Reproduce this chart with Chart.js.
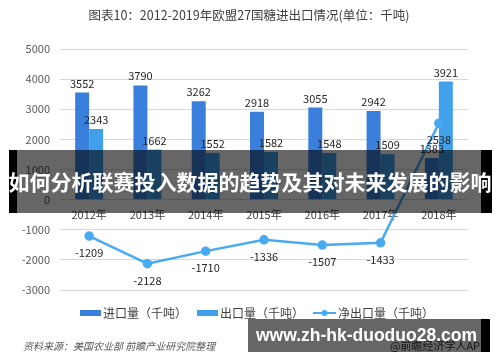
<!DOCTYPE html>
<html>
<head>
<meta charset="utf-8">
<script src="https://cdn.jsdelivr.net/npm/chart.js@4/dist/chart.umd.min.js"></script>
<style>
  body { margin: 0; background: #fff; }
  #wrap { position: relative; width: 500px; height: 362px; }
  .band {
    position: absolute; left: 9px; top: 150px; width: 464px; height: 63px;
    background: rgba(0, 0, 0, 0.6); border-left: 8px solid #000; border-right: 11px solid #000;
  }
  .band-text {
    position: absolute; left: 0; top: 150px; width: 500px; height: 63px;
    color: #fff; font: bold 21px "Noto Sans CJK SC", sans-serif; line-height: 63px;
    text-align: center; white-space: nowrap;
  }
  .site {
    position: absolute; left: 248px; top: 319px; width: 233px; height: 33px;
    background: rgba(0, 0, 0, 0.6); border-right: 9px solid #000;
  }
  .site-text {
    position: absolute; left: 248px; top: 319px; width: 237px; height: 33px;
    color: #fff; font: bold 17.5px "Liberation Sans", sans-serif; line-height: 33px;
    text-align: center; white-space: nowrap;
  }
</style>
</head>
<body>
<div id="wrap">
  <canvas id="chart" width="500" height="362"></canvas>
  <div class="band"></div>
  <div class="band-text">如何分析联赛投入数据的趋势及其对未来发展的影响</div>
  <div class="site"></div>
  <div class="site-text">www.zh-hk-duoduo28.com</div>
</div>
<script>
  const years = ['2012年', '2013年', '2014年', '2015年', '2016年', '2017年', '2018年'];
  const imports = [3552, 3790, 3262, 2918, 3055, 2942, 1383];
  const exports = [2343, 1662, 1552, 1582, 1548, 1509, 3921];
  const netExports = [-1209, -2128, -1710, -1336, -1507, -1433, 2538];

  const font = '"Noto Sans CJK SC", sans-serif';
  const importColor = '#3b7fdc';
  const exportColor = '#40a0ea';
  const lineColor = '#48aaf0';

  // value labels, title, legend and source note
  const extras = {
    id: 'extras',
    afterDatasetsDraw(chart) {
      const ctx = chart.ctx;
      ctx.save();
      ctx.fillStyle = '#262626';
      ctx.font = '11px ' + font;
      ctx.textAlign = 'center';
      [0, 1].forEach(i => {
        chart.getDatasetMeta(i).data.forEach((bar, j) => {
          ctx.fillText(String(chart.data.datasets[i].data[j]), bar.x, bar.y - 5);
        });
      });
      chart.getDatasetMeta(2).data.forEach((pt, j) => {
        ctx.fillText(String(netExports[j]), pt.x, pt.y + 21);
      });
      ctx.restore();
    },
    afterDraw(chart) {
      const ctx = chart.ctx;
      ctx.save();
      ctx.fillStyle = '#404040';
      ctx.font = '12.5px ' + font;
      ctx.textAlign = 'center';
      ctx.textBaseline = 'middle';
      ctx.fillText('图表10：2012-2019年欧盟27国糖进出口情况(单位：千吨)', 249, 15);

      // legend
      ctx.textAlign = 'left';
      ctx.font = '12px ' + font;
      const ly = 313;
      ctx.fillStyle = importColor;
      ctx.fillRect(80, ly - 3, 21, 6);
      ctx.fillStyle = '#404040';
      ctx.fillText('进口量（千吨）', 103, ly);
      ctx.fillStyle = exportColor;
      ctx.fillRect(197, ly - 3, 21, 6);
      ctx.fillStyle = '#404040';
      ctx.fillText('出口量（千吨）', 220, ly);
      ctx.strokeStyle = lineColor;
      ctx.lineWidth = 2;
      ctx.beginPath();
      ctx.moveTo(313, ly);
      ctx.lineTo(336, ly);
      ctx.stroke();
      ctx.fillStyle = lineColor;
      ctx.beginPath();
      ctx.arc(324.5, ly, 3, 0, Math.PI * 2);
      ctx.fill();
      ctx.fillStyle = '#404040';
      ctx.fillText('净出口量（千吨）', 338, ly);

      // source
      ctx.font = 'italic 10px ' + font;
      ctx.fillStyle = '#595959';
      ctx.fillText('资料来源：美国农业部 前瞻产业研究院整理', 23, 346);
      ctx.font = '11px ' + font;
      ctx.fillStyle = '#333';
      ctx.fillText('@前瞻经济学人APP', 390, 346);
      ctx.restore();
    }
  };

  new Chart(document.getElementById('chart'), {
    data: {
      labels: years,
      datasets: [
        {
          type: 'bar', label: '进口量（千吨）', data: imports,
          backgroundColor: importColor, order: 2,
          categoryPercentage: 0.48, barPercentage: 1
        },
        {
          type: 'bar', label: '出口量（千吨）', data: exports,
          backgroundColor: exportColor, order: 2,
          categoryPercentage: 0.48, barPercentage: 1
        },
        {
          type: 'line', label: '净出口量（千吨）', data: netExports,
          borderColor: lineColor, backgroundColor: lineColor, borderWidth: 2.5,
          pointRadius: 3.5, pointHoverRadius: 3.5, tension: 0, order: 1
        }
      ]
    },
    options: {
      responsive: false,
      animation: false,
      layout: { padding: { top: 49, right: 32, bottom: 72, left: 0 } },
      plugins: { legend: { display: false }, title: { display: false }, tooltip: { enabled: false } },
      scales: {
        x: {
          position: { y: 0 },
          grid: { display: false, drawTicks: false },
          border: { display: false },
          ticks: { color: '#404040', font: { family: font, size: 11 }, padding: 9 }
        },
        y: {
          min: -3000, max: 5000,
          afterFit: s => { s.width = 60; },
          grid: { color: '#d9d9d9', drawTicks: false },
          border: { display: false },
          ticks: {
            stepSize: 1000, color: '#595959', font: { family: font, size: 11 }, padding: 10,
            callback: v => String(v)
          }
        }
      }
    },
    plugins: [extras]
  });
</script>
</body>
</html>
